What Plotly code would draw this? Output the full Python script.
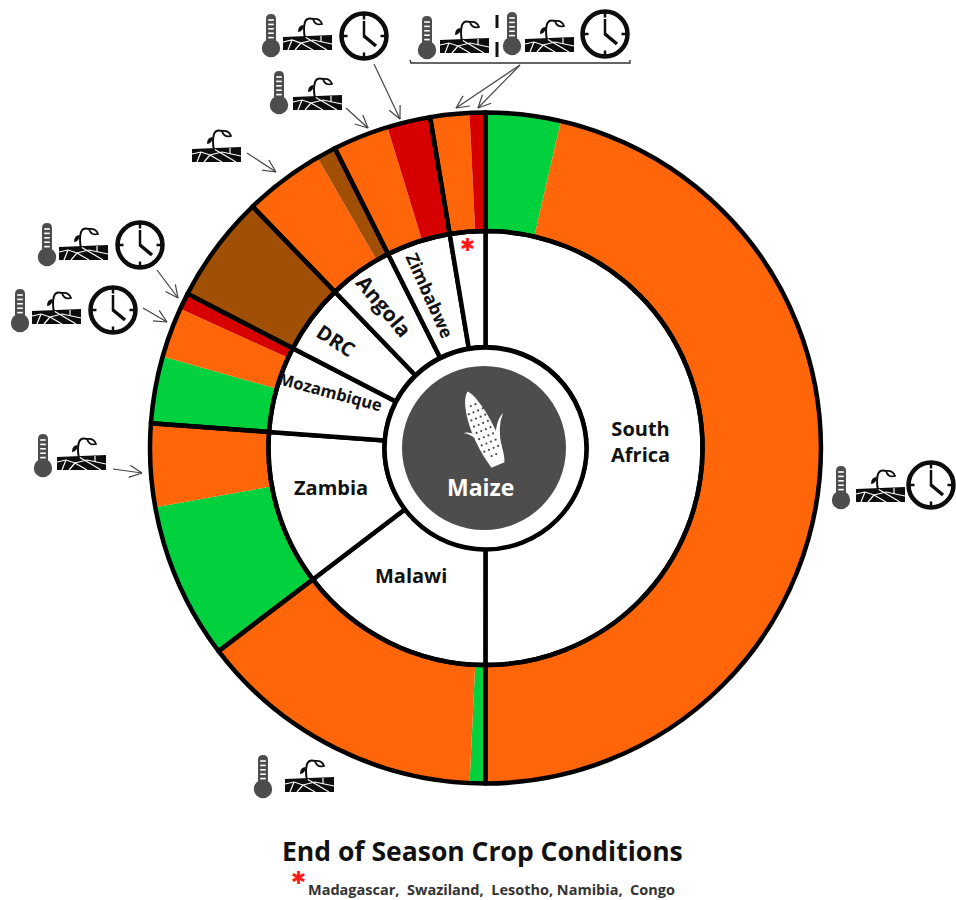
import math
import plotly.graph_objects as go

W, H = 956, 900
CX, CY = 485.5, 448.0

# Data: one entry per ring segment, clockwise from 12 o'clock (percent of the circle)
segment_country = ["South Africa", "South Africa", "Malawi", "Malawi", "Zambia", "Zambia",
                   "Mozambique", "Mozambique", "Mozambique", "DRC", "Angola", "Angola",
                   "Zimbabwe", "Zimbabwe", "Other", "Other"]
segment_condition = ["green", "orange", "green", "orange", "green", "orange",
                     "green", "orange", "red", "brown", "orange", "brown",
                     "orange", "red", "orange", "red"]
segment_values = [3.61, 46.39, 0.75, 13.89, 7.53, 4.00,
                  3.22, 2.42, 0.78, 5.19, 3.86, 0.94,
                  2.69, 2.08, 1.88, 0.76]
countries = ["South Africa", "Malawi", "Zambia", "Mozambique", "DRC", "Angola", "Zimbabwe", "Other"]
condition_colors = {"green": "#02d13e", "orange": "#ff6609", "red": "#d60000", "brown": "#a04f05"}
country_values = [sum(v for c, v in zip(segment_country, segment_values) if c == n) for n in countries]

R_OUT, R_MID, R_HUB, R_DARK = 335.5, 217.0, 101.0, 82.0
INK = "#4d4d4d"
BORDER = 4.5


def fx(x):
    return x / W


def fy(y):
    return 1 - y / H


def domain(r):
    return dict(x=[fx(CX - r), fx(CX + r)], y=[fy(CY + r), fy(CY - r)])


fig = go.Figure()
fig.add_trace(go.Pie(values=segment_values, sort=False, direction="clockwise", rotation=0,
                     domain=domain(R_OUT), hole=R_MID / R_OUT, textinfo="none", hoverinfo="skip",
                     marker=dict(colors=[condition_colors[c] for c in segment_condition],
                                 line=dict(width=0)), showlegend=False))
fig.add_trace(go.Pie(values=country_values, labels=countries, sort=False, direction="clockwise", rotation=0,
                     domain=domain(R_MID), hole=R_HUB / R_MID, textinfo="none", hoverinfo="skip",
                     marker=dict(colors=["white"] * len(countries), line=dict(color="black", width=BORDER)),
                     showlegend=False))
fig.add_trace(go.Pie(values=country_values, labels=countries, sort=False, direction="clockwise", rotation=0,
                     domain=domain(R_OUT), hole=R_MID / R_OUT, textinfo="none", hoverinfo="skip",
                     marker=dict(colors=["rgba(0,0,0,0)"] * len(countries), line=dict(color="black", width=BORDER)),
                     showlegend=False))

shapes = []


def circle(x, y, r, fill="rgba(0,0,0,0)", line=None, lw=0):
    shapes.append(dict(type="circle", xref="paper", yref="paper", layer="above",
                       x0=fx(x - r), x1=fx(x + r), y0=fy(y + r), y1=fy(y - r),
                       fillcolor=fill, line=dict(color=line or "rgba(0,0,0,0)", width=lw)))


def seg(x0, y0, x1, y1, color="black", lw=1.0):
    shapes.append(dict(type="line", xref="paper", yref="paper", layer="above",
                       x0=fx(x0), x1=fx(x1), y0=fy(y0), y1=fy(y1),
                       line=dict(color=color, width=lw)))


def path(cmds, fill="rgba(0,0,0,0)", line=None, lw=0):
    out = []
    for c in cmds:
        if isinstance(c, str):
            out.append(c)
        else:
            out.append(f"{fx(c[0]):.5f},{fy(c[1]):.5f}")
    shapes.append(dict(type="path", xref="paper", yref="paper", layer="above", path=" ".join(out),
                       fillcolor=fill, line=dict(color=line or "rgba(0,0,0,0)", width=lw)))


def arrow(x0, y0, x1, y1, color="#444444"):
    seg(x0, y0, x1, y1, color, 1.2)
    a = math.atan2(y1 - y0, x1 - x0)
    for d in (0.45, -0.45):
        seg(x1, y1, x1 - 14 * math.cos(a + d), y1 - 14 * math.sin(a + d), color, 1.2)


def thermometer(bx, by):
    path(["M", (bx - 5, by - 5), "L", (bx - 5, by - 29), "Q", (bx - 5, by - 34), (bx, by - 34),
          "Q", (bx + 5, by - 34), (bx + 5, by - 29), "L", (bx + 5, by - 5), "Z"], fill=INK)
    circle(bx, by, 9.2, fill=INK)
    for k in range(5):
        seg(bx - 2.8, by - 28 + 4.4 * k, bx + 2.8, by - 28 + 4.4 * k, "white", 1.6)


def soil(x0, y0):
    # x0 = left edge of the soil band, y0 = top of the band
    path(["M", (x0, y0 + 2), "L", (x0 + 49, y0), "L", (x0 + 49, y0 + 15), "L", (x0, y0 + 15), "Z"], fill="#0d0d0d")
    cracks = [[(x0, y0 + 7), (x0 + 9, y0 + 5), (x0 + 18, y0 + 8), (x0 + 30, y0 + 5), (x0 + 49, y0 + 9)],
              [(x0 + 9, y0 + 5), (x0 + 5, y0 + 15)],
              [(x0 + 18, y0 + 8), (x0 + 12, y0 + 15)],
              [(x0 + 18, y0 + 8), (x0 + 30, y0 + 15)],
              [(x0 + 22, y0 + 2), (x0 + 34, y0 + 9), (x0 + 44, y0 + 15)],
              [(x0 + 38, y0 + 1), (x0 + 38, y0 + 7)]]
    for cr in cracks:
        cmds = ["M", cr[0]]
        for q in cr[1:]:
            cmds += ["L", q]
        path(cmds, line="white", lw=1.2)
    # seedling
    sx = x0 + 22
    path(["M", (sx, y0 + 3), "Q", (sx - 2, y0 - 6), (sx, y0 - 13), "Q", (sx + 2, y0 - 18), (sx + 8, y0 - 16)],
         line="#0d0d0d", lw=2)
    path(["M", (sx + 8, y0 - 16), "Q", (sx + 15, y0 - 17), (sx + 17, y0 - 11), "Q", (sx + 10, y0 - 9), (sx + 8, y0 - 16), "Z"],
         fill="white", line="#0d0d0d", lw=1.8)
    path(["M", (sx - 1, y0 - 10), "Q", (sx - 7, y0 - 10), (sx - 7, y0 - 3), "Q", (sx - 2, y0 - 3), (sx - 1, y0 - 10), "Z"],
         fill="#0d0d0d")


def clock(x, y, r=22.5):
    circle(x, y, r, fill="white", line="#0d0d0d", lw=4.5)
    for a in range(0, 360, 90):
        ca, sa = math.cos(math.radians(a)), math.sin(math.radians(a))
        seg(x + ca * (r - 6), y + sa * (r - 6), x + ca * (r - 1), y + sa * (r - 1), "#0d0d0d", 2.5)
    seg(x, y + 1, x, y - 15, "#0d0d0d", 2.5)
    seg(x, y, x + 12, y + 10, "#0d0d0d", 3.5)


# Maize hub
circle(CX, CY + 0.5, R_HUB, fill="white", line="black", lw=BORDER)
circle(CX - 1.5, CY, R_DARK, fill=INK)

# Corn cob
tip, base = (467.5, 391.5), (498.0, 465.0)
ang = math.atan2(base[1] - tip[1], base[0] - tip[0])
ux, uy = math.cos(ang), math.sin(ang)
vx, vy = -uy, ux
L = math.hypot(base[0] - tip[0], base[1] - tip[1])


def cob(t, w):
    return (tip[0] + ux * t * L + vx * w, tip[1] + uy * t * L + vy * w)


path(["M", cob(0, 0), "C", cob(0.1, 11), cob(0.55, 16), cob(1, 7), "L", cob(1, -7),
      "C", cob(0.75, -16), cob(0.1, -9), cob(0, 0), "Z"], fill="white")
path(["M", (463, 433), "Q", (479, 434), (493, 465), "L", (498, 465), "Q", (480, 428), (463, 433), "Z"], fill="white")
path(["M", (503, 413), "Q", (492, 424), (497, 458), "L", (502, 448), "Q", (497, 428), (503, 413), "Z"], fill="white")
for i in range(1, 10):
    for j in (-7.5, -2.5, 2.5, 7.5):
        t = 0.1 + 0.085 * i
        if abs(j) > 6 and (i < 2 or i > 8):
            continue
        px, py = cob(t, j)
        circle(px, py, 1.1, fill=INK)

# Icon groups
soil(192, 147)
thermometer(271, 48); soil(283, 35); clock(364, 36)
thermometer(279, 105); soil(293, 95)
thermometer(427, 50); soil(440, 38)
thermometer(512, 46); soil(525, 37); clock(605, 34)
thermometer(47, 257); soil(59, 245); clock(140, 245)
thermometer(20, 323); soil(32, 309); clock(113, 310)
thermometer(43, 468); soil(57, 455)
thermometer(263, 789); soil(285, 777)
thermometer(841, 500); soil(856, 487); clock(931, 485)

# Dashed separator and bracket
seg(497, 15, 497, 28, "#111111", 3)
seg(497, 42, 497, 57, "#111111", 3)
path(["M", (410, 60), "L", (411, 63), "L", (630, 63), "L", (630, 60)], line="#333333", lw=1.4)

# Arrows
arrow(374, 64, 400, 119)
arrow(346, 108, 368, 128)
arrow(247, 153, 276, 172)
arrow(157, 270, 178, 298)
arrow(143, 308, 167, 322)
arrow(113, 469, 142, 473)
arrow(520, 65, 456, 108)
arrow(520, 65, 478, 108)

FONT = "Open Sans"
annotations = []


def label(x, y, text, size=17, color="#111111", angle=0, family=FONT):
    annotations.append(dict(xref="paper", yref="paper", x=fx(x), y=fy(y), text=f"<b>{text}</b>",
                            showarrow=False, textangle=angle, xanchor="center", yanchor="middle",
                            font=dict(family=family, size=size, color=color)))


label(640, 441, "South<br>Africa", 20)
label(411, 575, countries[1], 20)
label(331, 487, countries[2], 20)
label(330, 392, countries[3], 16.5, angle=15)
label(336, 340, countries[4], 20, angle=33)
label(384, 306, countries[5], 21, angle=50)
label(430, 295, countries[6], 17.5, angle=66)
label(467, 245, "\u2731", 18, color="#ff1a1a", family="DejaVu Sans")
label(481, 487, "Maize", 23, color="white")
label(482.5, 851, "End of Season Crop Conditions", 26.5)
label(298, 877, "\u2731", 18, color="#ff1a1a", family="DejaVu Sans")
label(492, 889, "Madagascar,&nbsp;&nbsp;Swaziland,&nbsp;&nbsp;Lesotho,&nbsp;Namibia,&nbsp;&nbsp;Congo", 14.5, color="#333333")

fig.update_layout(width=W, height=H, margin=dict(l=0, r=0, t=0, b=0), autosize=False,
                  paper_bgcolor="white", plot_bgcolor="white", showlegend=False,
                  shapes=shapes, annotations=annotations)
# Remove the page's default body margin so that the 956x900 figure fills the window exactly
fig.write_html("out.html", config={"displayModeBar": False},
               post_script="document.body.style.margin='0';document.documentElement.style.overflow='hidden';")
